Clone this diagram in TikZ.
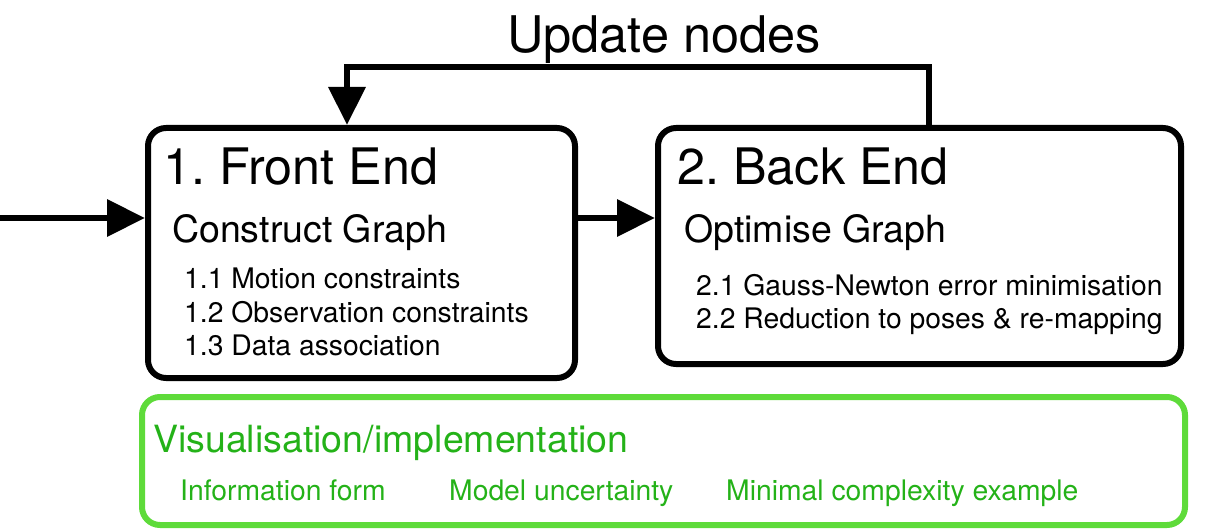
\documentclass[tikz,border=0pt]{standalone}
\usepackage{fontspec}
\setmainfont{TeX Gyre Heros}
\usepackage{xcolor}
\usetikzlibrary{arrows.meta}
\definecolor{visborder}{RGB}{94,219,58}
\definecolor{vistext}{RGB}{36,178,24}
\frenchspacing

\begin{document}
\begin{tikzpicture}[x=1pt, y=-1pt,
        stage/.style={draw, line width=6pt, rounded corners=18pt, inner sep=0pt},
        flow/.style={line width=6.5pt, -{Triangle[length=38pt, width=36pt]}},
        head/.style={anchor=base west, inner sep=0pt, font=\fontsize{50.3}{60}\selectfont},
        sub/.style={anchor=base west, inner sep=0pt, font=\fontsize{37.5}{44}\selectfont},
        item/.style={anchor=base west, inner sep=0pt, font=\fontsize{28.3}{34}\selectfont}]
        \useasboundingbox (0,0) rectangle (1224,532);

        % Boxes
        \node[stage, minimum width=427pt, minimum height=250pt] (fe) at (361.5,253) {};
        \node[stage, minimum width=523pt, minimum height=236pt] (be) at (919.5,246) {};
        \node[stage, draw=visborder, minimum width=1043pt, minimum height=128pt] (vis) at (663.5,461) {};

        % Front end text
        \node[head] (fe-title) at (163,185) {1. Front End};
        \node[sub] (fe-sub) at (172,242) {Construct Graph};
        \node[item] (fe-a) at (184,288) {1.1 Motion constraints};
        \node[item] (fe-b) at (184,322) {1.2 Observation constraints};
        \node[item] (fe-c) at (184,355) {1.3 Data association};

        % Back end text
        \node[head] (be-title) at (677,185) {2. Back End};
        \node[sub] (be-sub) at (684,242) {Optimise Graph};
        \node[item] (be-a) at (696,295) {2.1 Gauss-Newton error minimisation};
        \node[item] (be-b) at (696,328) {2.2 Reduction to poses \& re-mapping};

        % Visualisation text
        \node[sub, text=vistext] (vis-title) at (153,452) {Visualisation/implementation};
        \node[item, text=vistext] (vis-a) at (180,500) {Information form};
        \node[item, text=vistext] (vis-b) at (449,500) {Model uncertainty};
        \node[item, text=vistext] (vis-c) at (726,500) {Minimal complexity example};

        % Arrows
        \coordinate (in) at (0,218);
        \draw[flow] (in) -- (in -| fe.west);
        \draw[flow] (in -| fe.east) -- (in -| be.west);

        % Feedback loop
        \coordinate (fbR) at (929,67);
        \coordinate (fbL) at (347,67);
        \draw[line width=6.5pt] (fbR |- be.north) -- (fbR) -- (fbL) -- ([yshift=3pt]fbL);
        \draw[flow] (fbL) -- (fbL |- fe.north);
        \node[anchor=base, inner sep=0pt, font=\fontsize{50.5}{60}\selectfont] (upd) at (664,53) {Update nodes};
    \end{tikzpicture}
\end{document}
